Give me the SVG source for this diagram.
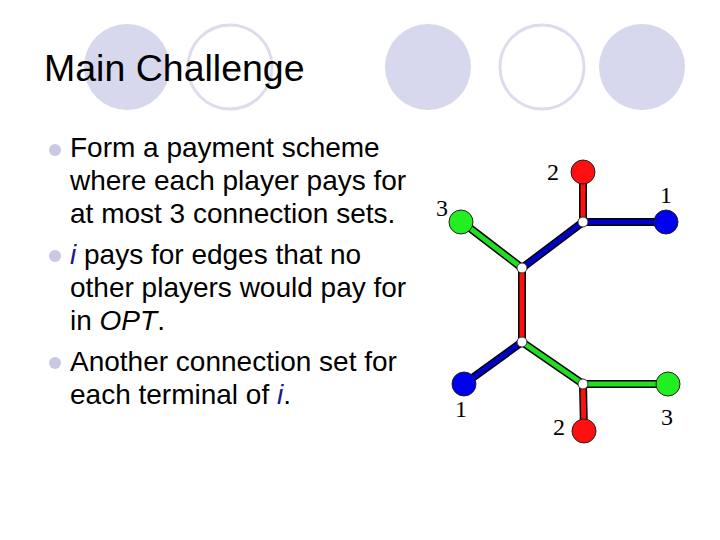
<svg xmlns="http://www.w3.org/2000/svg" width="720" height="540" viewBox="0 0 720 540">
<style>
.deco-f{fill:#d7d7ed;stroke:none}
.deco-o{fill:#fff;stroke:#dcdcec;stroke-width:3}
.title{font-family:"Liberation Sans",Arial,sans-serif;font-size:37.5px;fill:#000}
.body{font-family:"Liberation Sans",Arial,sans-serif;font-size:28px;fill:#000}
.it{font-style:italic}
.iblue{font-style:italic;fill:#1a1a8a}
.bullet{fill:#c9c9e6}
.edge-bg{stroke:#000;stroke-width:8;stroke-linecap:butt;fill:none}
.red{stroke:#ff1010;stroke-width:5;fill:none}
.blue{stroke:#0000c8;stroke-width:5;fill:none}
.green{stroke:#22dd22;stroke-width:5;fill:none}
.term{stroke:#222;stroke-width:1}
.jn{fill:#fff;stroke:#333;stroke-width:1}
.lbl{font-family:"Liberation Serif","Times New Roman",serif;font-size:24px;fill:#000;text-anchor:middle}
</style>
<rect width="720" height="540" fill="#fff"/>
<g id="decor">
<circle class="deco-f" cx="127" cy="67" r="43"/>
<circle class="deco-o" cx="230" cy="67" r="42"/>
<circle class="deco-f" cx="428" cy="67" r="43"/>
<circle class="deco-o" cx="542" cy="67" r="42"/>
<circle class="deco-f" cx="642" cy="67" r="43"/>
</g>
<text class="title" x="44" y="81">Main Challenge</text>
<g id="bullets">
<circle class="bullet" cx="55" cy="150" r="6"/>
<circle class="bullet" cx="55" cy="256" r="6"/>
<circle class="bullet" cx="55" cy="363" r="6"/>
<text class="body" x="70" y="157">Form a payment scheme</text>
<text class="body" x="70" y="190">where each player pays for</text>
<text class="body" x="70" y="223">at most 3 connection sets.</text>
<text class="body" x="70" y="264"><tspan class="iblue">i</tspan> pays for edges that no</text>
<text class="body" x="70" y="297">other players would pay for</text>
<text class="body" x="70" y="330">in <tspan class="it">OPT</tspan>.</text>
<text class="body" x="70" y="371">Another connection set for</text>
<text class="body" x="70" y="404">each terminal of <tspan class="iblue">i</tspan>.</text>
</g>
<g id="connectors">
<path class="edge-bg" d="M583 173 L583 222 M583 222 L666 222 M462 222 L522 268 M583 222 L522 268 M522 268 L522 342 M522 342 L464 384 M522 342 L583 384 M583 384 L668 384 M583 384 L584 431"/>
<path class="red" d="M583 173 L583 222"/>
<path class="blue" d="M583 222 L666 222"/>
<path class="green" d="M462 222 L522 268"/>
<path class="blue" d="M583 222 L522 268"/>
<path class="red" d="M522 268 L522 342"/>
<path class="blue" d="M522 342 L464 384"/>
<path class="green" d="M522 342 L583 384"/>
<path class="green" d="M583 384 L668 384"/>
<path class="red" d="M583 384 L584 431"/>
</g>
<g id="n-red-top"><circle class="term" cx="583" cy="172" r="12" fill="#ff1010"/><text class="lbl" x="553" y="180">2</text></g>
<g id="n-blue-right"><circle class="term" cx="666" cy="222" r="12" fill="#0000ee"/><text class="lbl" x="666" y="203">1</text></g>
<g id="n-green-left"><circle class="term" cx="461" cy="222" r="12" fill="#22ee22"/><text class="lbl" x="442" y="216">3</text></g>
<g id="n-blue-bottom"><circle class="term" cx="464" cy="384" r="12" fill="#0000ee"/><text class="lbl" x="461" y="417">1</text></g>
<g id="n-red-bottom"><circle class="term" cx="584" cy="431" r="12" fill="#ff1010"/><text class="lbl" x="559" y="435">2</text></g>
<g id="n-green-right"><circle class="term" cx="668" cy="384" r="12" fill="#22ee22"/><text class="lbl" x="667" y="425">3</text></g>
<g id="j1"><circle class="jn" cx="583" cy="222" r="5"/></g>
<g id="j2"><circle class="jn" cx="522" cy="268" r="5"/></g>
<g id="j3"><circle class="jn" cx="522" cy="342" r="5"/></g>
<g id="j4"><circle class="jn" cx="583" cy="384" r="5"/></g>
</svg>
